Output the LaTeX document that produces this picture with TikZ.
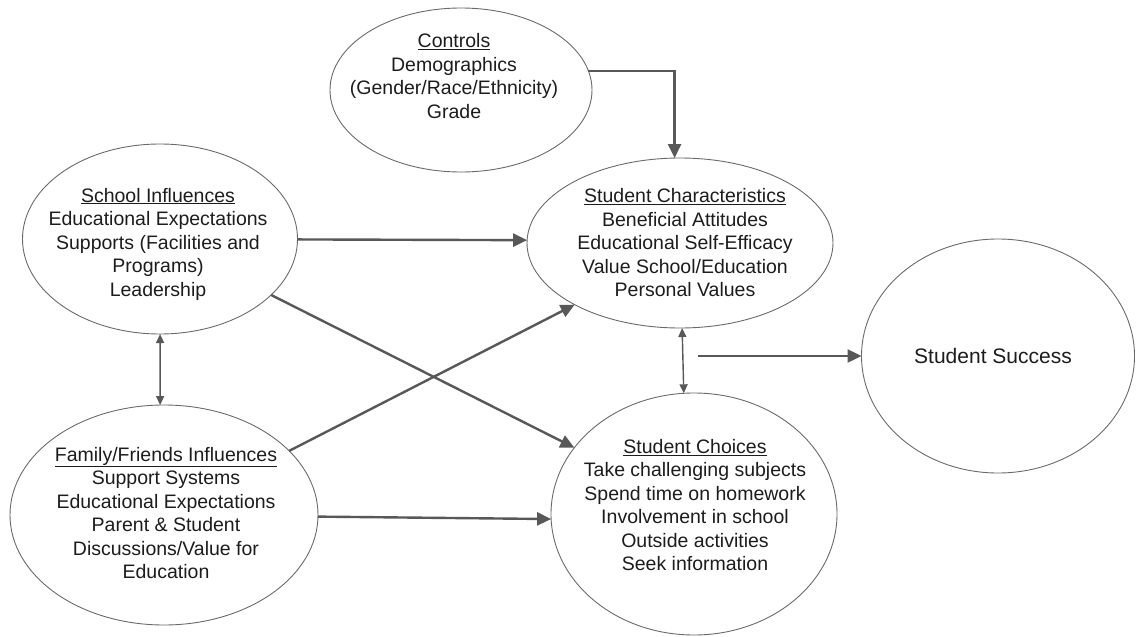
\documentclass[tikz,border=0pt]{standalone}
\usepackage{fontspec}
\setmainfont{Liberation Sans}
\usetikzlibrary{arrows.meta, shapes.geometric}

\definecolor{linegray}{HTML}{6A6A6A}
\definecolor{arrowgray}{HTML}{585858}
\definecolor{textblack}{HTML}{1C1C1C}

\begin{document}
\begin{tikzpicture}[x=1pt, y=-1pt,
    bubble/.style={ellipse, draw=linegray, line width=0.9pt, inner sep=0pt, outer sep=0pt},
    txt/.style={align=center, text=textblack, font=\fontsize{19.5}{23.5}\selectfont},
    arr/.style={-{Triangle[length=14pt, width=13pt]}, draw=arrowgray, line width=2.4pt},
    darr/.style={{Triangle[length=9pt, width=8pt]}-{Triangle[length=9pt, width=8pt]}, draw=arrowgray, line width=1.4pt}]
    \useasboundingbox (0,0) rectangle (1138,637);

    % Ellipses
    \node[bubble, minimum width=262pt, minimum height=164pt] (controls) at (461,90) {};
    \node[bubble, minimum width=275pt, minimum height=190pt] (school) at (160,239) {};
    \node[bubble, minimum width=308pt, minimum height=220pt] (family) at (164,515) {};
    \node[bubble, minimum width=306pt, minimum height=170pt] (chars) at (680,243) {};
    \node[bubble, minimum width=286pt, minimum height=242pt] (choices) at (694,514) {};
    \node[bubble, minimum width=273pt, minimum height=234pt] (success) at (998,356) {};

    % Texts
    \node[txt] (controlsTxt) at ([xshift=-7pt, yshift=14pt]controls) {\underline{Controls}\\Demographics\\(Gender/Race/Ethnicity)\\Grade};
    \node[txt] (schoolTxt) at ([xshift=-2pt, yshift=-5pt]school) {\underline{School Influences}\\Educational Expectations\\Supports (Facilities and\\Programs)\\Leadership};
    \node[txt] (familyTxt) at ([xshift=2pt, yshift=2pt]family) {\underline{Family/Friends Influences}\\Support Systems\\Educational Expectations\\Parent \& Student\\Discussions/Value for\\Education};
    \node[txt] (charsTxt) at ([xshift=5pt]chars) {\underline{Student Characteristics}\\Beneficial Attitudes\\Educational Self-Efficacy\\Value School/Education\\Personal Values};
    \node[txt] (choicesTxt) at ([xshift=1pt, yshift=9pt]choices) {\underline{Student Choices}\\Take challenging subjects\\Spend time on homework\\Involvement in school\\Outside activities\\Seek information};
    \node[txt, font=\fontsize{21}{25}\selectfont] (successTxt) at ([xshift=-5pt]success) {Student Success};

    % Controls to characteristics
    \draw[arr] ([shift={(142,-31)}]controls) -| ([shift={(-11,-94)}]chars);

    % School influences
    \draw[arr] ([shift={(143,-3)}]school) -- ([shift={(-160,-7)}]chars);
    \draw[arr] ([shift={(128,50)}]school) -- ([shift={(-149,-48)}]choices);

    % Family/friends influences
    \draw[arr] ([shift={(147,-56)}]family) -- ([shift={(-154,44)}]chars);
    \draw[arr] ([shift={(162,12)}]family) -- ([shift={(-151,13)}]choices);

    % Two-way links
    \draw[darr] ([shift={(-2,106)}]school) -- ([shift={(-6,-123)}]family);
    \draw[darr] ([shift={(-1,94)}]chars) -- ([shift={(-15,-129)}]choices);

    % Outcome
    \coordinate (both) at (698,356);
    \draw[arr] (both) -- ([shift={(-155,0)}]success);

\end{tikzpicture}
\end{document}
